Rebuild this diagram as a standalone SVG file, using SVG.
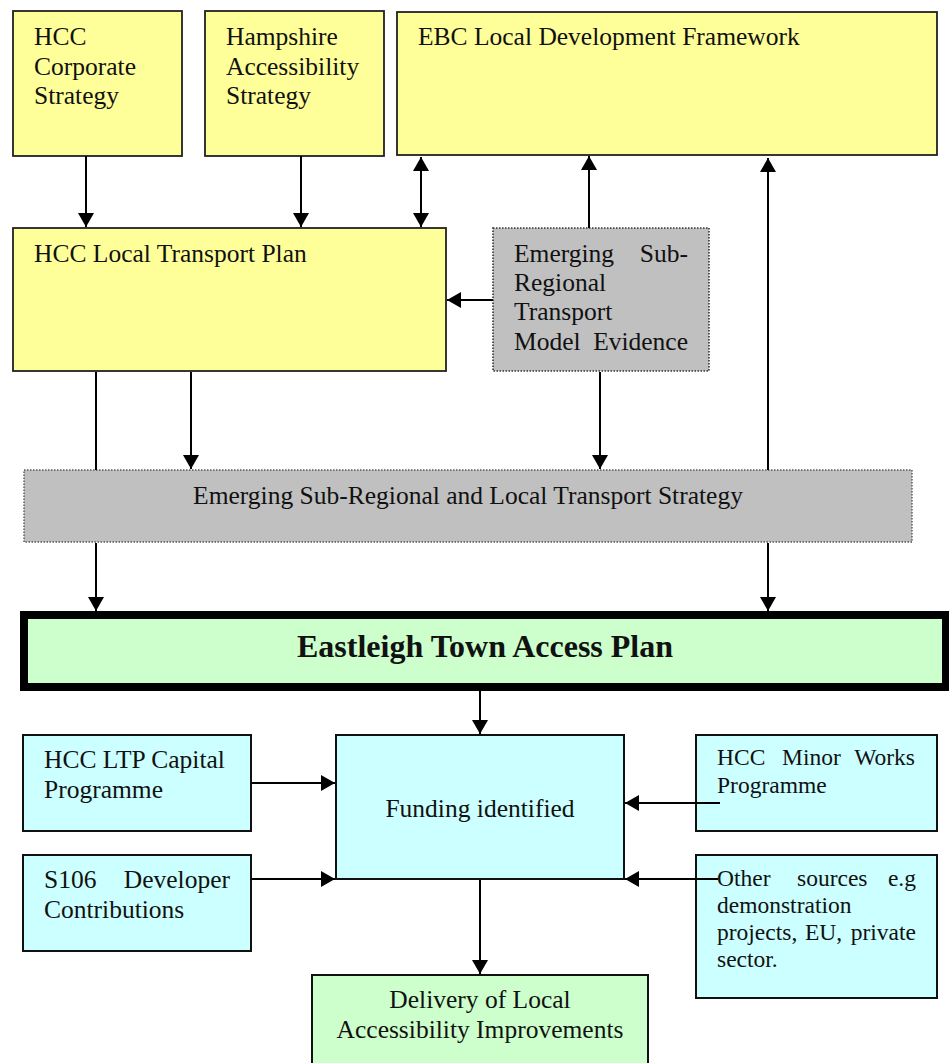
<svg xmlns="http://www.w3.org/2000/svg" width="949" height="1063" viewBox="0 0 949 1063">
<style>
  .t { font-family: "Liberation Serif", "Times New Roman", serif; font-size: 25.5px; fill: #111; }
  .s { font-family: "Liberation Serif", "Times New Roman", serif; font-size: 23.5px; fill: #111; }
  .b { font-family: "Liberation Serif", "Times New Roman", serif; font-size: 32px; font-weight: bold; fill: #111; }
  .yel { fill: #FFFF99; stroke: #222; stroke-width: 1.8; }
  .gry { fill: #C0C0C0; stroke: #333; stroke-width: 1.6; stroke-dasharray: 1.5 1.5; }
  .gry2 { fill: #C0C0C0; stroke: #555; stroke-width: 1.4; stroke-dasharray: 1.5 1.5; }
  .cy { fill: #CCFFFF; stroke: #111; stroke-width: 2; }
  .gr { fill: #CCFFCC; stroke: #111; stroke-width: 2; }
  .main { fill: #CCFFCC; stroke: #000; stroke-width: 8; }
  .c { stroke: #000; stroke-width: 2; fill: none; }
  .a { marker-end: url(#ah); }
  .a2 { marker-start: url(#ah); marker-end: url(#ah); }
</style>
<defs>
  <marker id="ah" markerUnits="userSpaceOnUse" viewBox="0 0 14 16" markerWidth="14" markerHeight="16" refX="14" refY="8" orient="auto-start-reverse">
    <path d="M0,0 L14,8 L0,16 z" fill="#000"/>
  </marker>
</defs>
<rect width="949" height="1063" fill="#fff"/>

<g id="hcc-corporate">
  <rect class="yel" x="13" y="11" width="169" height="145"/>
  <text class="t" x="34" y="45">HCC</text>
  <text class="t" x="34" y="75">Corporate</text>
  <text class="t" x="34" y="104">Strategy</text>
</g>
<g id="hampshire">
  <rect class="yel" x="205" y="11" width="179" height="145"/>
  <text class="t" x="226" y="45">Hampshire</text>
  <text class="t" x="226" y="75">Accessibility</text>
  <text class="t" x="226" y="104">Strategy</text>
</g>
<g id="ebc-ldf">
  <rect class="yel" x="397" y="12" width="540" height="143"/>
  <text class="t" x="418" y="45">EBC Local Development Framework</text>
</g>
<g id="hcc-ltp">
  <rect class="yel" x="13" y="228" width="433" height="143"/>
  <text class="t" x="34" y="262">HCC Local Transport Plan</text>
</g>
<g id="model-evidence">
  <rect class="gry" x="493" y="228" width="216" height="143"/>
  <text class="t" x="514" y="262">Emerging</text>
  <text class="t" x="688" y="262" text-anchor="end">Sub-</text>
  <text class="t" x="514" y="291">Regional</text>
  <text class="t" x="514" y="320">Transport</text>
  <text class="t" x="514" y="350">Model</text>
  <text class="t" x="688" y="350" text-anchor="end">Evidence</text>
</g>
<g id="strategy">
  <rect class="gry2" x="24" y="470" width="888" height="72"/>
  <text class="t" x="468" y="504" text-anchor="middle">Emerging Sub-Regional and Local Transport Strategy</text>
</g>
<g id="access-plan">
  <rect class="main" x="24" y="615" width="922" height="72"/>
  <text class="b" x="485" y="657" text-anchor="middle">Eastleigh Town Access Plan</text>
</g>
<g id="ltp-capital">
  <rect class="cy" x="23" y="735" width="228" height="96"/>
  <text class="t" x="44" y="768">HCC LTP Capital</text>
  <text class="t" x="44" y="798">Programme</text>
</g>
<g id="s106">
  <rect class="cy" x="23" y="855" width="228" height="96"/>
  <text class="t" x="44" y="888">S106</text>
  <text class="t" x="230" y="888" text-anchor="end">Developer</text>
  <text class="t" x="44" y="918">Contributions</text>
</g>
<g id="funding">
  <rect class="cy" x="336" y="735" width="288" height="144"/>
  <text class="t" x="480" y="817" text-anchor="middle">Funding identified</text>
</g>
<g id="minor-works">
  <rect class="cy" x="696" y="735" width="241" height="96"/>
  <text class="s" x="717" y="765">HCC</text>
  <text class="s" x="782" y="765">Minor</text>
  <text class="s" x="915" y="765" text-anchor="end">Works</text>
  <text class="s" x="717" y="793">Programme</text>
</g>
<g id="other-sources">
  <rect class="cy" x="696" y="855" width="241" height="143"/>
  <text class="s" x="717" y="886">Other</text>
  <text class="s" x="797" y="886">sources</text>
  <text class="s" x="916" y="886" text-anchor="end">e.g</text>
  <text class="s" x="717" y="913">demonstration</text>
  <text class="s" x="717" y="940">projects,</text>
  <text class="s" x="805" y="940">EU,</text>
  <text class="s" x="916" y="940" text-anchor="end">private</text>
  <text class="s" x="717" y="967">sector.</text>
</g>
<g id="delivery">
  <rect class="gr" x="312" y="975" width="336" height="100"/>
  <text class="t" x="480" y="1008" text-anchor="middle">Delivery of Local</text>
  <text class="t" x="480" y="1038" text-anchor="middle">Accessibility Improvements</text>
</g>

<g id="connectors">
  <line class="c a" x1="86" y1="156" x2="86" y2="227"/>
  <line class="c a" x1="301" y1="156" x2="301" y2="227"/>
  <line class="c a2" x1="421" y1="157" x2="421" y2="227"/>
  <line class="c a" x1="493" y1="300" x2="447" y2="300"/>
  <line class="c a" x1="589" y1="228" x2="589" y2="156"/>
  <line class="c a" x1="768" y1="470" x2="768" y2="158"/>
  <line class="c" x1="96" y1="372" x2="96" y2="470"/>
  <line class="c a" x1="191" y1="372" x2="191" y2="469"/>
  <line class="c a" x1="600" y1="372" x2="600" y2="469"/>
  <line class="c a" x1="96" y1="543" x2="96" y2="611"/>
  <line class="c a" x1="768" y1="543" x2="768" y2="611"/>
  <line class="c a" x1="480" y1="691" x2="480" y2="734"/>
  <line class="c a" x1="251" y1="783" x2="335" y2="783"/>
  <line class="c a" x1="251" y1="879" x2="335" y2="879"/>
  <line class="c a" x1="720" y1="803" x2="625" y2="803"/>
  <line class="c a" x1="718" y1="879" x2="625" y2="879"/>
  <line class="c a" x1="480" y1="880" x2="480" y2="974"/>
</g>
</svg>
